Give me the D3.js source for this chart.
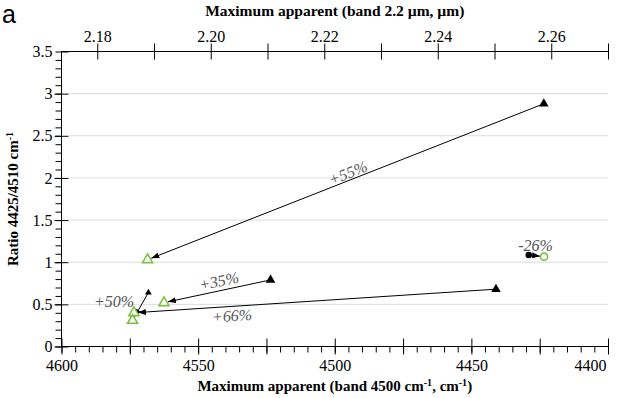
<!DOCTYPE html>
<meta charset="utf-8">
<style>
body { margin: 0; background: #fff; }
svg text { font-family: "Liberation Serif", "Times New Roman", serif !important; }
svg text.sans { font-family: "Liberation Sans", Arial, sans-serif !important; }
.axis path, .axis line { stroke: #000; stroke-width: 1px; }
.grid line { stroke: #dcdcdc; stroke-width: 1px; }
.pct { font-style: italic; fill: #555; font-size: 16px; }
</style>
<svg width="624" height="398"></svg>
<script src="https://d3js.org/d3.v7.min.js"></script>
<script>

// arrow pairs : before (black) -> after (green)
var pairLabels = ["+55%", "+35%", "+66%", "+50%", "-26%"];
var shapes     = ["triangle", "triangle", "triangle", "triangle", "circle"];
var startX = [4423.5, 4523.5, 4441, 4568.2, 4429];
var startY = [2.88, 0.79, 0.68, 0.64, 1.086];
var endX   = [4568.5, 4562.5, 4573.5, 4574, 4423.4];
var endY   = [1.03, 0.52, 0.40, 0.31, 1.066];
// where the percentage text sits (data units)
var labelX = [4495.2, 4542.4, 4537.6, 4580.8, 4426.5];
var labelY = [2.06, 0.778, 0.368, 0.534, 1.205];

var bottomTicks = [4600, 4550, 4500, 4450, 4400];
var topTicks = [2.18, 2.20, 2.22, 2.24, 2.26];
var yTicks = [0, 0.5, 1, 1.5, 2, 2.5, 3, 3.5];

var svg = d3.select("svg");

var x = d3.scaleLinear().domain([4600, 4400]).range([61.5, 608]);
var xTop = d3.scaleLinear().domain([2.1737, 2.27]).range([61.5, 608]);
var y = d3.scaleLinear().domain([0, 3.5]).range([346.5, 51.5]);
var midX = (x(4600) + x(4400)) / 2;

// grid
svg.append("g").attr("class", "grid")
  .selectAll("line")
  .data(yTicks.filter(function(d) { return d > 0 && d < 3.5; }))
  .enter().append("line")
    .attr("x1", x(4600) + 8).attr("x2", x(4400))
    .attr("y1", function(d) { return y(d); })
    .attr("y2", function(d) { return y(d); });

// bottom axis: minor every 5, major every 25, labels every 50
var gx = svg.append("g").attr("class", "axis").attr("transform", "translate(0," + y(0) + ")");
gx.append("g").call(d3.axisBottom(x).tickValues(d3.range(4400, 4601, 5)).tickSize(6).tickFormat(""));
gx.append("g").call(d3.axisBottom(x).tickValues(d3.range(4400, 4601, 25)).tickSize(8).tickFormat(""))
  .selectAll(".tick line").attr("y1", -8);
gx.append("g").call(d3.axisBottom(x).tickValues(bottomTicks).tickSize(0).tickPadding(13).tickFormat(d3.format("d")))
  .call(function(g) { g.select(".domain").remove(); })
  .selectAll("text").attr("font-size", 16)
  .filter(function(d) { return d === 4400; }).attr("text-anchor", "end").attr("dx", -2);
gx.selectAll(".domain").attr("d", "M" + x(4600) + ",0H" + x(4400));

// top axis: ticks every 0.01, labels every 0.02
var gt = svg.append("g").attr("class", "axis").attr("transform", "translate(0," + y(3.5) + ")");
gt.append("g").call(d3.axisTop(xTop).tickValues(d3.range(2.18, 2.2701, 0.01)).tickSize(8).tickFormat(""))
  .selectAll(".tick line").attr("y1", 8);
gt.append("g").call(d3.axisTop(xTop).tickValues(topTicks).tickSize(0).tickPadding(10).tickFormat(d3.format(".2f")))
  .call(function(g) { g.select(".domain").remove(); })
  .selectAll("text").attr("font-size", 16);
gt.selectAll(".domain").attr("d", "M" + x(4600) + ",0H" + x(4400));

// left axis: minor every 0.1, major every 0.5
var gy = svg.append("g").attr("class", "axis").attr("transform", "translate(" + x(4600) + ",0)");
gy.append("g").call(d3.axisLeft(y).tickValues(d3.range(0, 3.501, 0.1)).tickSize(6).tickFormat(""));
gy.append("g").call(d3.axisLeft(y).tickValues(yTicks).tickSize(7).tickPadding(2).tickFormat(d3.format("")))
  .selectAll(".tick line").attr("x2", function(d) { return d === 3.5 ? 0 : -7; }).attr("x1", 7);
gy.selectAll("text").attr("font-size", 16);
gy.selectAll(".domain").attr("d", "M0," + y(0) + "V" + y(3.5));

// arrow head
svg.append("defs").append("marker")
    .attr("id", "head")
    .attr("markerUnits", "userSpaceOnUse")
    .attr("viewBox", "0 0 8 6")
    .attr("refX", 8).attr("refY", 3)
    .attr("markerWidth", 8).attr("markerHeight", 6)
    .attr("orient", "auto")
  .append("path").attr("d", "M0,0L8,3L0,6Z").attr("fill", "#000");

var idx = d3.range(pairLabels.length);

function shortEnd(i, axis) {
  var dx = x(endX[i]) - x(startX[i]), dy = y(endY[i]) - y(startY[i]);
  var l = Math.sqrt(dx * dx + dy * dy);
  return axis === "x" ? x(endX[i]) - dx / l * 4 : y(endY[i]) - dy / l * 4;
}

svg.append("g").selectAll("line")
  .data(idx)
  .enter().append("line")
    .attr("x1", function(i) { return x(startX[i]); })
    .attr("y1", function(i) { return y(startY[i]); })
    .attr("x2", function(i) { return shortEnd(i, "x"); })
    .attr("y2", function(i) { return shortEnd(i, "y"); })
    .attr("stroke", "#000")
    .attr("stroke-width", 1)
    .attr("marker-end", "url(#head)");

var green = "#7cc242";

// start points
svg.append("g").selectAll("path")
  .data(idx)
  .enter().append("path")
    .attr("transform", function(i) { return "translate(" + x(startX[i]) + "," + y(startY[i]) + ")"; })
    .attr("d", function(i) {
      return shapes[i] === "circle"
        ? d3.symbol().type(d3.symbolCircle).size(34)()
        : d3.symbol().type(d3.symbolTriangle).size(i === 3 ? 20 : 40)();
    })
    .attr("fill", "#000");

// end points
svg.append("g").selectAll("path")
  .data(idx)
  .enter().append("path")
    .attr("transform", function(i) { return "translate(" + x(endX[i]) + "," + y(endY[i]) + ")"; })
    .attr("d", function(i) {
      return shapes[i] === "circle"
        ? d3.symbol().type(d3.symbolCircle).size(40)()
        : d3.symbol().type(d3.symbolTriangle).size(44)();
    })
    .attr("fill", "#fff")
    .attr("stroke", green)
    .attr("stroke-width", 1.6);

// percentages
svg.append("g").selectAll("text")
  .data(idx)
  .enter().append("text")
    .attr("class", "pct")
    .attr("text-anchor", "middle")
    .attr("dy", "0.35em")
    .attr("transform", function(i) {
      var dx = x(startX[i]) - x(endX[i]), dy = y(startY[i]) - y(endY[i]);
      var a = Math.abs(dx) > 60 ? Math.atan2(dy, dx) * 180 / Math.PI : 0;
      return "translate(" + x(labelX[i]) + "," + y(labelY[i]) + ") rotate(" + a + ")";
    })
    .text(function(i) { return pairLabels[i]; });

// titles
svg.append("text")
    .attr("x", midX).attr("y", 15.5)
    .attr("text-anchor", "middle")
    .attr("font-weight", "bold").attr("font-size", 15.5)
    .text("Maximum apparent (band 2.2 \u00b5m, \u00b5m)");

var bt = svg.append("text")
    .attr("x", midX).attr("y", 391)
    .attr("text-anchor", "middle")
    .attr("font-weight", "bold").attr("font-size", 15);
bt.append("tspan").text("Maximum apparent (band 4500 cm");
bt.append("tspan").attr("baseline-shift", "super").attr("font-size", 10).text("-1");
bt.append("tspan").text(", cm");
bt.append("tspan").attr("baseline-shift", "super").attr("font-size", 10).text("-1");
bt.append("tspan").text(")");

var lt = svg.append("text")
    .attr("transform", "translate(18," + (y(0) + y(3.5)) / 2 + ") rotate(-90)")
    .attr("text-anchor", "middle")
    .attr("font-weight", "bold").attr("font-size", 15);
lt.append("tspan").text("Ratio 4425/4510 cm");
lt.append("tspan").attr("baseline-shift", "super").attr("font-size", 10).text("-1");

svg.append("text")
    .attr("class", "sans")
    .attr("x", 2).attr("y", 23)
    .attr("font-size", 25)
    .text("a");

</script>
